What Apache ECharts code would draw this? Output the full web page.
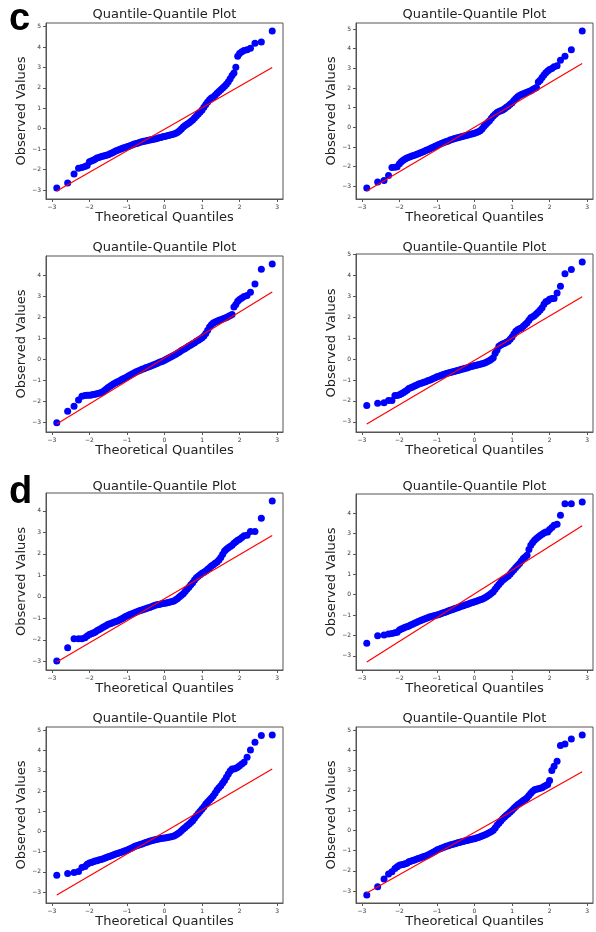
<!DOCTYPE html>
<html>
<head>
<meta charset="utf-8">
<script src="https://cdn.jsdelivr.net/npm/echarts@6/dist/echarts.min.js"></script>
<style>
html,body{margin:0;padding:0;background:#fff;}
#chart{width:596px;height:932px;}
</style>
</head>
<body>
<div id="chart"></div>
<script>
// ---------------- DATA ----------------
const plotTitle = 'Quantile-Quantile Plot';
const xAxisName = 'Theoretical Quantiles';
const yAxisName = 'Observed Values';
const panelLetters = ['c', 'd'];

// theoretical quantiles (shared by all panels)
const X = [
  -2.87,-2.58,-2.41,-2.29,-2.20,-2.12,-2.06,-2.00,-1.95,-1.90,-1.85,
  -1.80,-1.75,-1.70,-1.65,-1.60,-1.55,-1.50,-1.45,-1.40,-1.35,-1.30,-1.25,-1.20,-1.15,-1.10,-1.05,
  -1.00,-0.95,-0.90,-0.85,-0.80,-0.75,-0.70,-0.65,-0.60,-0.55,-0.50,-0.45,-0.40,-0.35,-0.30,-0.25,-0.20,-0.15,-0.10,-0.05,
  0.00,0.05,0.10,0.15,0.20,0.25,0.30,0.35,0.40,0.45,0.50,0.55,0.60,0.65,0.70,0.75,0.80,0.85,0.90,0.95,
  1.00,1.05,1.10,1.15,1.20,1.25,1.30,1.35,1.40,1.45,1.50,1.55,1.60,1.65,1.70,1.75,1.80,
  1.85,1.90,1.95,2.00,2.06,2.12,2.20,2.29,2.41,2.58,2.87
];

// observed values, one array per panel
const Y1 = [
  -2.90,-2.66,-2.22,-1.94,-1.90,-1.85,-1.80,-1.62,-1.58,-1.55,-1.50,
  -1.44,-1.41,-1.38,-1.35,-1.32,-1.30,-1.27,-1.23,-1.19,-1.14,-1.09,-1.05,-1.02,-0.98,-0.95,-0.92,
  -0.89,-0.86,-0.82,-0.79,-0.75,-0.72,-0.70,-0.67,-0.64,-0.62,-0.60,-0.58,-0.56,-0.54,-0.52,-0.50,-0.48,-0.45,-0.43,-0.40,
  -0.38,-0.36,-0.34,-0.31,-0.29,-0.26,-0.22,-0.17,-0.10,-0.01,0.08,0.15,0.22,0.28,0.35,0.42,0.52,0.62,0.72,0.82,
  0.92,1.05,1.18,1.30,1.42,1.50,1.55,1.64,1.73,1.82,1.90,1.99,2.08,2.18,2.30,2.44,2.60,
  2.72,3.00,3.55,3.68,3.76,3.82,3.86,3.93,4.18,4.24,4.78
];
const Y2 = [
  -3.09,-2.78,-2.70,-2.45,-2.05,-2.03,-2.00,-1.85,-1.75,-1.67,-1.61,
  -1.56,-1.52,-1.49,-1.45,-1.42,-1.38,-1.35,-1.31,-1.27,-1.23,-1.18,-1.14,-1.10,-1.05,-1.01,-0.96,
  -0.92,-0.88,-0.84,-0.80,-0.76,-0.72,-0.69,-0.65,-0.62,-0.58,-0.55,-0.53,-0.51,-0.48,-0.46,-0.43,-0.41,-0.38,-0.35,-0.33,
  -0.30,-0.27,-0.23,-0.17,-0.08,0.04,0.14,0.24,0.34,0.46,0.58,0.67,0.75,0.80,0.84,0.88,0.95,1.02,1.09,1.17,
  1.25,1.36,1.47,1.55,1.62,1.67,1.71,1.75,1.78,1.82,1.86,1.92,1.98,2.03,2.30,2.40,2.53,
  2.66,2.77,2.87,2.94,2.99,3.08,3.13,3.41,3.61,3.95,4.90
];
const Y3 = [
  -3.00,-2.45,-2.21,-1.92,-1.74,-1.70,-1.69,-1.69,-1.68,-1.66,-1.64,
  -1.62,-1.60,-1.57,-1.54,-1.47,-1.39,-1.32,-1.26,-1.20,-1.15,-1.10,-1.05,-1.01,-0.96,-0.91,-0.87,
  -0.82,-0.77,-0.72,-0.67,-0.62,-0.58,-0.54,-0.50,-0.46,-0.43,-0.39,-0.36,-0.32,-0.29,-0.25,-0.22,-0.18,-0.14,-0.10,-0.07,
  -0.03,0.02,0.07,0.12,0.16,0.21,0.26,0.32,0.37,0.43,0.48,0.53,0.59,0.65,0.70,0.76,0.81,0.87,0.92,0.98,
  1.04,1.12,1.24,1.40,1.55,1.66,1.74,1.79,1.83,1.87,1.90,1.94,1.97,2.01,2.05,2.10,2.15,
  2.50,2.62,2.78,2.86,2.93,3.00,3.05,3.21,3.60,4.30,4.55
];
const Y4 = [
  -2.22,-2.11,-2.09,-1.98,-1.98,-1.74,-1.74,-1.70,-1.66,-1.61,-1.55,
  -1.49,-1.41,-1.37,-1.33,-1.29,-1.25,-1.20,-1.17,-1.14,-1.11,-1.08,-1.04,-1.01,-0.97,-0.93,-0.89,
  -0.85,-0.82,-0.79,-0.75,-0.72,-0.69,-0.67,-0.64,-0.62,-0.59,-0.57,-0.54,-0.52,-0.49,-0.47,-0.44,-0.42,-0.39,-0.36,-0.34,
  -0.31,-0.29,-0.27,-0.25,-0.22,-0.20,-0.16,-0.12,-0.07,-0.01,0.07,0.28,0.44,0.61,0.67,0.72,0.76,0.80,0.85,0.95,
  1.06,1.20,1.33,1.40,1.45,1.49,1.57,1.66,1.74,1.86,1.98,2.03,2.09,2.17,2.25,2.35,2.46,
  2.62,2.74,2.78,2.86,2.90,2.90,3.16,3.48,4.08,4.29,4.64
];
const Y5 = [
  -2.99,-2.37,-1.95,-1.95,-1.95,-1.90,-1.82,-1.75,-1.72,-1.68,-1.65,
  -1.58,-1.53,-1.48,-1.43,-1.38,-1.33,-1.28,-1.25,-1.22,-1.18,-1.15,-1.12,-1.08,-1.03,-0.98,-0.93,
  -0.89,-0.85,-0.81,-0.77,-0.74,-0.70,-0.67,-0.64,-0.61,-0.58,-0.55,-0.52,-0.49,-0.46,-0.42,-0.39,-0.37,-0.35,-0.33,-0.31,
  -0.30,-0.28,-0.26,-0.24,-0.22,-0.19,-0.14,-0.08,0.00,0.07,0.15,0.25,0.35,0.45,0.56,0.66,0.78,0.89,0.96,1.03,
  1.10,1.15,1.20,1.28,1.36,1.44,1.50,1.56,1.62,1.72,1.83,1.98,2.14,2.22,2.29,2.35,2.40,
  2.49,2.56,2.63,2.68,2.76,2.84,2.87,3.04,3.04,3.66,4.46
];
const Y6 = [
  -2.38,-2.01,-1.98,-1.93,-1.90,-1.87,-1.84,-1.73,-1.68,-1.65,-1.60,
  -1.57,-1.54,-1.49,-1.45,-1.40,-1.36,-1.32,-1.28,-1.24,-1.20,-1.17,-1.13,-1.10,-1.07,-1.05,-1.02,
  -1.00,-0.97,-0.94,-0.90,-0.87,-0.84,-0.80,-0.77,-0.74,-0.70,-0.67,-0.64,-0.61,-0.57,-0.54,-0.51,-0.48,-0.45,-0.41,-0.38,
  -0.35,-0.32,-0.29,-0.25,-0.22,-0.18,-0.13,-0.07,0.00,0.07,0.14,0.26,0.39,0.50,0.61,0.71,0.78,0.85,0.91,1.01,
  1.12,1.22,1.33,1.43,1.53,1.65,1.77,1.85,1.93,2.21,2.42,2.55,2.66,2.75,2.83,2.90,2.96,
  3.02,3.07,3.07,3.19,3.29,3.40,3.45,3.89,4.46,4.46,4.54
];
const Y7 = [
  -2.17,-2.09,-2.04,-1.99,-1.79,-1.74,-1.62,-1.57,-1.54,-1.50,-1.47,
  -1.45,-1.42,-1.39,-1.36,-1.33,-1.29,-1.26,-1.23,-1.19,-1.16,-1.12,-1.09,-1.06,-1.03,-0.99,-0.96,
  -0.93,-0.88,-0.84,-0.80,-0.75,-0.71,-0.68,-0.65,-0.62,-0.58,-0.55,-0.52,-0.49,-0.46,-0.44,-0.41,-0.39,-0.37,-0.35,-0.34,
  -0.33,-0.31,-0.29,-0.27,-0.25,-0.22,-0.18,-0.12,-0.05,0.03,0.12,0.20,0.28,0.36,0.44,0.53,0.65,0.78,0.89,1.00,
  1.11,1.23,1.36,1.46,1.56,1.66,1.77,1.91,2.05,2.16,2.27,2.40,2.52,2.68,2.85,3.00,3.10,
  3.10,3.13,3.18,3.26,3.34,3.43,3.68,4.04,4.42,4.75,4.78
];
const Y8 = [
  -3.20,-2.79,-2.41,-2.16,-2.05,-1.88,-1.80,-1.72,-1.70,-1.68,-1.65,
  -1.62,-1.55,-1.52,-1.49,-1.46,-1.42,-1.39,-1.36,-1.32,-1.29,-1.26,-1.22,-1.18,-1.13,-1.08,-1.02,
  -0.97,-0.93,-0.89,-0.85,-0.82,-0.78,-0.75,-0.72,-0.69,-0.67,-0.64,-0.61,-0.59,-0.56,-0.54,-0.51,-0.49,-0.47,-0.44,-0.42,
  -0.40,-0.37,-0.34,-0.31,-0.27,-0.23,-0.19,-0.14,-0.09,-0.04,0.02,0.13,0.26,0.37,0.48,0.59,0.68,0.76,0.84,0.92,
  1.01,1.11,1.20,1.28,1.35,1.42,1.49,1.56,1.63,1.75,1.86,1.95,2.03,2.06,2.08,2.11,2.13,
  2.19,2.24,2.29,2.49,2.99,3.20,3.45,4.23,4.30,4.55,4.75
];

// red reference lines: x ends and y at each end, per panel
const lineX = [-2.87, 2.87];
const lineYStart = [-3.05, -3.24, -3.06, -3.10, -3.03, -3.30, -3.15, -3.10];
const lineYEnd   = [ 2.99,  3.25,  3.22,  2.98,  2.86,  3.38,  3.10,  2.92];

// tick labels
const xTicks = [-3, -2, -1, 0, 1, 2, 3];
const yTicksTo5 = [-3, -2, -1, 0, 1, 2, 3, 4, 5];
const yTicksTo4 = [-3, -2, -1, 0, 1, 2, 3, 4];
const panelYTicks = [yTicksTo5, yTicksTo5, yTicksTo4, yTicksTo5, yTicksTo4, yTicksTo4, yTicksTo5, yTicksTo5];

// ---------------- LAYOUT ----------------
const panelY = [Y1, Y2, Y3, Y4, Y5, Y6, Y7, Y8];
const frames = [
  {left: 46,  top: 23,  width: 237, height: 176},
  {left: 356, top: 23,  width: 237, height: 176},
  {left: 46,  top: 256, width: 237, height: 176},
  {left: 356, top: 254, width: 237, height: 178},
  {left: 46,  top: 493, width: 237, height: 177},
  {left: 356, top: 494, width: 237, height: 176},
  {left: 46,  top: 727, width: 237, height: 176},
  {left: 356, top: 727, width: 237, height: 176}
];
const titleY = [14.5, 14.5, 247.5, 247.5, 486.5, 486.5, 719, 719];
const letterPos = [{x: 9, y: 20}, {x: 9, y: 493}];

const FONT = '"DejaVu Sans", sans-serif';
const frameColor = '#555';
const textColor = '#222';
const minus = v => String(v).replace('-', '\u2212');

const grids = [], xAxes = [], yAxes = [], series = [], graphics = [];
frames.forEach((f, i) => {
  grids.push({left: f.left, top: f.top, width: f.width, height: f.height,
    show: true, borderColor: frameColor, borderWidth: 1, backgroundColor: 'transparent', containLabel: false});
  const Y = panelY[i];
  const xlo = Math.min(...X), xhi = Math.max(...X);
  const xpad = 0.05 * (xhi - xlo);
  const ylo = Math.min(...Y, lineYStart[i]), yhi = Math.max(...Y, lineYEnd[i]);
  const ypad = 0.05 * (yhi - ylo);
  xAxes.push({
    type: 'value', gridIndex: i, min: xlo - xpad, max: xhi + xpad,
    splitLine: {show: false},
    axisLine: {show: true, onZero: false, lineStyle: {color: frameColor, width: 1}},
    axisTick: {show: true, inside: false, length: 3, customValues: xTicks, lineStyle: {color: frameColor, width: 1}},
    axisLabel: {show: true, customValues: xTicks, margin: 5, fontSize: 6, fontFamily: FONT, color: '#333', formatter: minus},
    name: xAxisName, nameLocation: 'middle', nameGap: 12,
    nameTextStyle: {fontSize: 13, fontFamily: FONT, color: textColor}
  });
  yAxes.push({
    type: 'value', gridIndex: i, min: ylo - ypad, max: yhi + ypad,
    splitLine: {show: false},
    axisLine: {show: true, onZero: false, lineStyle: {color: frameColor, width: 1}},
    axisTick: {show: true, inside: false, length: 3, customValues: panelYTicks[i], lineStyle: {color: frameColor, width: 1}},
    axisLabel: {show: true, customValues: panelYTicks[i], margin: 5, fontSize: 6, fontFamily: FONT, color: '#333', formatter: minus},
    name: yAxisName, nameLocation: 'middle', nameGap: 17, nameRotate: 90,
    nameTextStyle: {fontSize: 13, fontFamily: FONT, color: textColor}
  });
  series.push({
    type: 'scatter', xAxisIndex: i, yAxisIndex: i,
    data: X.map((x, k) => [x, Y[k]]),
    symbol: 'circle', symbolSize: 7,
    itemStyle: {color: '#0000ff', opacity: 1},
    z: 2
  });
  series.push({
    type: 'line', xAxisIndex: i, yAxisIndex: i,
    data: [[lineX[0], lineYStart[i]], [lineX[1], lineYEnd[i]]],
    showSymbol: false, symbol: 'none',
    lineStyle: {color: '#ff0000', width: 1.2},
    z: 3
  });
  graphics.push({
    type: 'text', x: f.left + f.width / 2, y: titleY[i],
    style: {text: plotTitle, font: '13px ' + FONT, fill: textColor,
      textAlign: 'center', textVerticalAlign: 'middle', align: 'center', verticalAlign: 'middle'}
  });
});
panelLetters.forEach((t, j) => {
  graphics.push({
    type: 'text', x: letterPos[j].x, y: letterPos[j].y,
    style: {text: t, font: 'bold 38px "Liberation Sans", Arial, sans-serif', fill: '#000',
      textAlign: 'left', textVerticalAlign: 'middle', align: 'left', verticalAlign: 'middle'}
  });
});

const chart = echarts.init(document.getElementById('chart'), null, {renderer: 'canvas'});
chart.setOption({
  animation: false,
  backgroundColor: '#fff',
  grid: grids,
  xAxis: xAxes,
  yAxis: yAxes,
  series: series,
  graphic: graphics
});
</script>
</body>
</html>
